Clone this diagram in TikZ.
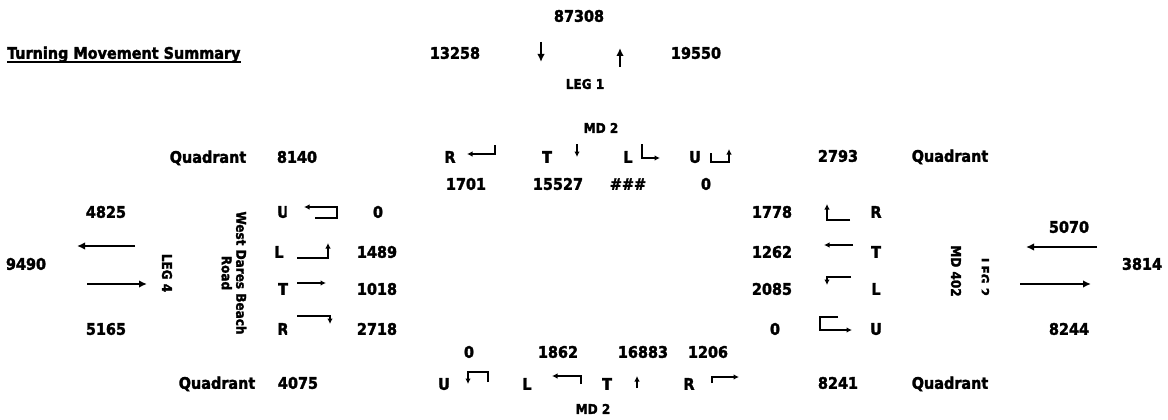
\documentclass[tikz,border=0pt]{standalone}
\usepackage{fontspec}
\setmainfont{DejaVu Sans Condensed}[BoldFeatures={FakeBold=2}]
\usetikzlibrary{arrows.meta}
\begin{document}
\begin{tikzpicture}[x=1pt,y=-1pt,
  lbl/.style={inner sep=0pt, font=\bfseries\fontsize{16}{18}\selectfont, text height=11.6pt, text depth=0pt},
  sml/.style={inner sep=0pt, font=\bfseries\fontsize{13.4}{15}\selectfont, text height=9.8pt, text depth=0pt},
  road/.style={inner sep=0pt, font=\bfseries\fontsize{13.4}{14.5}\selectfont, align=center, rotate=-90},
  bigarrow/.style={line width=1.8pt, -{Latex[length=8pt,width=7.5pt]}},
  turn/.style={line width=1.2pt, -{Latex[length=5.5pt,width=5.5pt]}}]
\useasboundingbox (0,0) rectangle (1168,420);

% title
\node[lbl, anchor=west] (title) at (7,53) {Turning Movement Summary};
\draw[line width=1.4pt] ([yshift=-3pt]title.south west) -- ([yshift=-3pt]title.south east);

% north leg
\node[lbl] (ntot) at (579,16) {87308};
\node[lbl] (nin) at (455,53) {13258};
\node[lbl] (nout) at (696,53) {19550};
\node[sml] (leg1) at (585,84) {LEG 1};
\node[sml] (mdn) at (601,128) {MD 2};
\draw[bigarrow] (541,42) -- (541,62);
\draw[bigarrow] (620,67) -- (620,48);

% quadrant totals
\node[lbl] (qnw) at (208,157) {Quadrant};
\node[lbl] (qnwv) at (297,157) {8140};
\node[lbl] (qnev) at (838,156) {2793};
\node[lbl] (qne) at (950,156) {Quadrant};
\node[lbl] (qsw) at (217,383) {Quadrant};
\node[lbl] (qswv) at (298,383) {4075};
\node[lbl] (qsev) at (838,383) {8241};
\node[lbl] (qse) at (950,383) {Quadrant};

% southbound movements
\node[lbl] (nR) at (450,157) {R};
\node[lbl] (nT) at (547,157) {T};
\node[lbl] (nL) at (628,157) {L};
\node[lbl] (nU) at (695,157) {U};
\node[lbl] (nRv) at (466,184) {1701};
\node[lbl] (nTv) at (558,184) {15527};
\node[lbl] (nLv) at (628,184) {\#\#\#};
\node[lbl] (nUv) at (706,184) {0};
\draw[turn] (495,145) -- (495,154) -- (467,154);
\draw[turn] (577,144) -- (577,157);
\draw[turn] (642,144) -- (642,158) -- (660,158);
\draw[turn] (711,153) -- (711,162) -- (729,162) -- (729,149);

% west leg
\node[lbl] (win) at (106,212) {4825};
\node[lbl] (wtot) at (26,264) {9490};
\node[lbl] (wout) at (106,329) {5165};
\draw[bigarrow] (135,246) -- (77,246);
\draw[bigarrow] (87,284) -- (147,284);
\node[road] (leg4) at (167,273) {LEG 4};
\node[road] (wname) at (234,273) {West Dares Beach\\Road};

% eastbound movements
\begin{scope}
  \clip (270,200) rectangle (286.5,225);
  \node[lbl] (wU) at (283,212) {U};
\end{scope}
\node[lbl] (wL) at (279,252) {L};
\node[lbl] (wT) at (283,289) {T};
\begin{scope}
  \clip (270,318) rectangle (287,340);
  \node[lbl] (wR) at (283,329) {R};
\end{scope}
\node[lbl] (wUv) at (378,212) {0};
\node[lbl] (wLv) at (377,252) {1489};
\node[lbl] (wTv) at (377,289) {1018};
\node[lbl] (wRv) at (377,329) {2718};
\draw[turn] (315,218) -- (337,218) -- (337,207) -- (304,207);
\draw[turn] (297,258) -- (328,258) -- (328,243);
\draw[turn] (297,283) -- (326,283);
\draw[turn] (297,316) -- (330,316) -- (330,324);

% westbound movements
\node[lbl] (eRv) at (772,212) {1778};
\node[lbl] (eTv) at (772,252) {1262};
\node[lbl] (eLv) at (772,289) {2085};
\node[lbl] (eUv) at (775,329) {0};
\node[lbl] (eR) at (876,212) {R};
\node[lbl] (eT) at (876,252) {T};
\node[lbl] (eL) at (876,289) {L};
\node[lbl] (eU) at (876,329) {U};
\draw[turn] (850,220) -- (827,220) -- (827,204);
\draw[turn] (853,245) -- (824,245);
\draw[turn] (851,277) -- (827,277) -- (827,285);
\draw[turn] (838,317) -- (820,317) -- (820,330) -- (852,330);

% east leg
\node[road] (ename) at (956,271) {MD 402};
\begin{scope}
  \clip (981.5,250) rectangle (990,305);
  \node[road] (leg2) at (984,277) {LEG 2};
\end{scope}
\node[lbl] (ein) at (1069,227) {5070};
\node[lbl] (etot) at (1142,264) {3814};
\node[lbl] (eout) at (1069,329) {8244};
\draw[bigarrow] (1097,247) -- (1026,247);
\draw[bigarrow] (1020,284) -- (1091,284);

% northbound movements
\node[lbl] (sUv) at (469,352) {0};
\node[lbl] (sLv) at (558,352) {1862};
\node[lbl] (sTv) at (643,352) {16883};
\node[lbl] (sRv) at (708,352) {1206};
\node[lbl] (sU) at (444,384) {U};
\node[lbl] (sL) at (527,384) {L};
\node[lbl] (sT) at (607,384) {T};
\node[lbl] (sR) at (689,384) {R};
\node[sml] (mds) at (593,409) {MD 2};
\draw[turn] (488,382) -- (488,372) -- (468,372) -- (468,384);
\draw[turn] (581,384) -- (581,376) -- (552,376);
\draw[turn] (637,388) -- (637,376);
\draw[turn] (712,383) -- (712,377) -- (739,377);
\end{tikzpicture}
\end{document}
